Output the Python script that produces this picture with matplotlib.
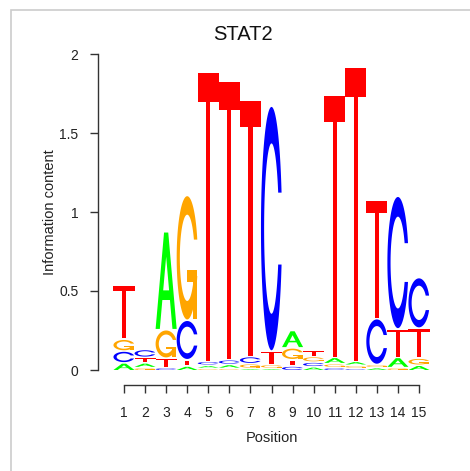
import numpy as np
import matplotlib
matplotlib.use('Agg')
import matplotlib.pyplot as plt
from matplotlib.patches import Polygon, Rectangle

plt.rcParams['font.family'] = ['Liberation Sans', 'DejaVu Sans']

# drawn letter heights per base at each position (bits)
positions = list(range(1, 16))
A = [0.04, 0.02, 0.61, 0.02, 0.01, 0.015, 0.005, 0.005, 0.10, 0.015, 0.03, 0.015, 0.01, 0.055, 0.025]
C = [0.065, 0.04, 0.01, 0.24, 0.015, 0.02, 0.035, 1.54, 0.02, 0.02, 0.01, 0.005, 0.28, 0.83, 0.31]
G = [0.065, 0.01, 0.17, 0.78, 0.005, 0.005, 0.02, 0.015, 0.065, 0.025, 0.015, 0.01, 0.01, 0.01, 0.035]
T = [0.33, 0.025, 0.05, 0.03, 1.82, 1.75, 1.61, 0.075, 0.03, 0.03, 1.65, 1.85, 0.74, 0.17, 0.18]

colors = {'A': '#00ff00', 'C': '#0000ff', 'G': '#ffa500', 'T': '#ff0000'}
yticks = [0, 0.5, 1, 1.5, 2]
ytick_labels = ['0', '0.5', '1', '1.5', '2']


def c_outline():
    a1 = np.linspace(0.3 + np.pi / 2, np.pi, 100)
    a2 = np.linspace(np.pi, 1.5 * np.pi, 100)
    xl = np.r_[0.5 + 0.5 * np.sin(a1), 0.5 + 0.5 * np.sin(a2)]
    yl = np.r_[0.5 + 0.5 * np.cos(a1), 0.5 + 0.5 * np.cos(a2)]
    top = (0.5 + 0.5 * np.cos(a1)).max()
    x = np.r_[xl, xl[::-1]]
    y = np.r_[yl, 1 - yl[::-1]]
    xi1 = 0.5 + 0.35 * np.sin(a1)
    yi1 = 0.5 + 0.35 * np.cos(a1)
    keep = yi1 <= top
    xi1, yi1 = xi1[keep], yi1[keep]
    yi1[0] = top
    xi = np.r_[xi1, 0.5 + 0.35 * np.sin(a2)]
    yi = np.r_[yi1, 0.5 + 0.35 * np.cos(a2)]
    x1 = np.r_[xi, xi[::-1]]
    y1 = np.r_[yi, 1 - yi[::-1]]
    r1 = (0.5 + 0.5 * np.sin(a1)).max()
    return np.r_[x, x1[::-1]], np.r_[y, y1[::-1]], r1


CX, CY, R1 = c_outline()
shapes = {
    'A': [(np.array([0, 4, 6, 10, 8, 6.8, 3.2, 2, 0]) / 10,
           np.array([0, 10, 10, 0, 0, 3, 3, 0, 0]) / 10, None),
          (np.array([3.6, 5, 6.4, 3.6]) / 10, np.array([4, 7.5, 4, 4]) / 10, 'white')],
    'C': [(CX, CY, None)],
    'G': [(CX, CY, None),
          (np.array([R1, 0.5, 0.5, R1 - 0.2, R1 - 0.2, R1, R1]),
           np.array([0.4, 0.4, 0.3, 0.3, 0, 0, 0.4]), None)],
    'T': [(np.array([0, 10, 10, 6, 6, 4, 4, 0]) / 10,
           np.array([10, 10, 9, 9, 0, 0, 9, 9]) / 10, None)],
}


def draw_letter(ax, base, x0, y0, h, w=1.0):
    for xs, ys, fc in shapes[base]:
        pts = np.column_stack([x0 + w * xs, y0 + h * ys])
        ax.add_patch(Polygon(pts, closed=True, facecolor=fc or colors[base],
                             edgecolor='none', antialiased=True))


W, H = 470, 471
fig = plt.figure(figsize=(W / 100, H / 100), dpi=100)

# axes placed in pixel terms: pos1 -> x=124, pos15 -> x=419; y 0 -> 370, 2 -> 54
px_per_pos = (419 - 124) / 14
px_per_bit = (370 - 54) / 2
left_px, right_px, bottom_px, top_px = 98, 445, 385, 39
ax = fig.add_axes([left_px / W, 1 - bottom_px / H,
                   (right_px - left_px) / W, (bottom_px - top_px) / H])
ax.set_xlim(1 - (124 - left_px) / px_per_pos, 15 + (right_px - 419) / px_per_pos)
ax.set_ylim(-(bottom_px - 370) / px_per_bit, 2 + (54 - top_px) / px_per_bit)

gap = 0.01
for i, p in enumerate(positions):
    stack = sorted([('A', A[i]), ('C', C[i]), ('G', G[i]), ('T', T[i])], key=lambda t: t[1])
    y = 0
    for base, h in stack:
        draw_letter(ax, base, p - 0.5, y, h)
        y += h + gap

for s in ['top', 'right']:
    ax.spines[s].set_visible(False)
ax.spines['left'].set_bounds(0, 2)
ax.spines['bottom'].set_bounds(1, 15)
for s in ['left', 'bottom']:
    ax.spines[s].set_color('#333333')
    ax.spines[s].set_linewidth(1)

ax.set_yticks(yticks)
ax.set_yticklabels(ytick_labels)
ax.set_xticks(positions)
ax.set_xticklabels([str(p) for p in positions])
ax.tick_params(axis='both', direction='out', length=6, width=1, color='#333333',
               labelsize=10, labelcolor='#222222')
ax.tick_params(axis='x', pad=9)
ax.tick_params(axis='y', pad=8)

ax.set_xlabel('Position', fontsize=10.5, color='#222222', labelpad=8)
ax.set_ylabel('Information content', fontsize=10.5, color='#222222', labelpad=2)
fig.text(243 / W, 1 - 35 / H, 'STAT2', ha='center', va='center', fontsize=14.5, color='#111111')

# light frame around the plot area
fig.add_artist(Rectangle((10.5 / W, -0.2), 1.2, 1 - 10 / H + 0.2, transform=fig.transFigure,
                         fill=False, edgecolor='#cccccc', linewidth=1.2))

fig.savefig('out.png', dpi=100, facecolor='white')
